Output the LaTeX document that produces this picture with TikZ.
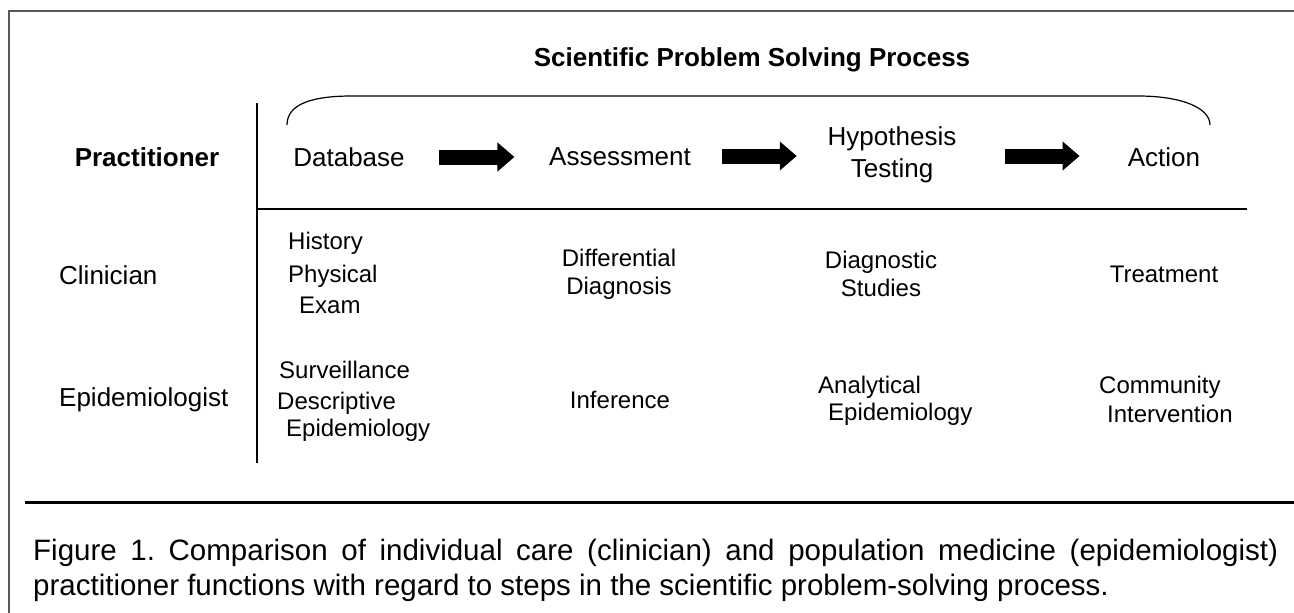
\documentclass[tikz,border=0pt]{standalone}
\usepackage{fontspec}
\setmainfont{Liberation Sans}
\usepackage{tikz}
\usetikzlibrary{arrows.meta, positioning, calc}

\begin{document}
\begin{tikzpicture}[x=1pt, y=-1pt,
        T/.style={inner sep=0pt, font=\fontsize{26}{32}\selectfont, align=center},
        H/.style={T, font=\fontsize{26}{32}\selectfont\bfseries},
        C/.style={inner sep=0pt, font=\fontsize{24}{28}\selectfont, align=center},
        L/.style={C, anchor=west},
        rule/.style={line width=2.2pt},
        blk/.style={line width=15pt, -{Triangle[length=17pt, width=28pt]}}
      ]
        \useasboundingbox (0,0) rectangle (1294,613);
        % frame (only top and left visible)
        \draw[line width=2pt, black!65] (1294,11) -- (9,11) -- (9,613);
        % title and the bracket over the steps
        \node[H] (title) at (752,60) {Scientific Problem Solving Process};
        \draw[line width=1.2pt] (287,125) .. controls (287,104) and (312,96) .. (352,96)
          -- (1138,96) .. controls (1182,96) and (1210,108) .. (1210,125);
        % table rules
        \draw[rule] (257,103) -- (257,463);
        \draw[rule] (257,209) -- (1247,209);
        % header row
        \node[H] (prac) at (147,157) {Practitioner};
        \node[T] (db) at (349,157) {Database};
        \node[T] (as) at (620,157) {Assessment};
        \node[T] (ht) at (892,155) {Hypothesis\\Testing};
        \node[T] (ac) at (1164,157) {Action};
        \draw[blk] ($(db.east)!0.5!(as.west)+(-37.5,0)$) -- ($(db.east)!0.5!(as.west)+(37.5,0)$);
        \draw[blk] ($(as.east)!0.5!(ht.west)+(-37.5,0)$) -- ($(as.east)!0.5!(ht.west)+(37.5,0)$);
        \draw[blk] ($(ht.east)!0.5!(ac.west)+(-37.5,0)$) -- ($(ht.east)!0.5!(ac.west)+(37.5,0)$);
        % clinician row
        \node[T, anchor=west] (clin) at (59,275) {Clinician};
        \node[L] (hist) at (288,243) {History};
        \node[L] (phys) at (288,276) {Physical};
        \node[L] (exam) at (299,305) {Exam};
        \node[C] (diff) at (619,274) {Differential\\Diagnosis};
        \node[C] (dstud) at (881,274) {Diagnostic\\Studies};
        \node[C] (treat) at (1164,274) {Treatment};
        % epidemiologist row
        \node[T, anchor=west] (epi) at (59,400) {Epidemiologist};
        \node[L] (surv) at (279,370) {Surveillance};
        \node[L] (desc) at (277,403) {Descriptive};
        \node[L] (depi) at (286,430) {Epidemiology};
        \node[C] (inf) at (620,400) {Inference};
        \node[L] (anal) at (818,387) {Analytical};
        \node[L] (aepi) at (828,414) {Epidemiology};
        \node[L] (comm) at (1099,387) {Community};
        \node[L] (interv) at (1107,414) {Intervention};
        % caption
        \draw[line width=3pt] (25,502) -- (1294,502);
        \node[inner sep=0pt, anchor=base west, text width=1245pt, align=justify,
          font=\fontsize{29.5}{35}\selectfont] (cap) at (33,560)
          {\frenchspacing Figure 1. Comparison of individual care (clinician) and population medicine (epidemiologist)\linebreak \mbox{practitioner} \mbox{functions} with regard to steps in the scientific problem-solving process.};
      \end{tikzpicture}
\end{document}
